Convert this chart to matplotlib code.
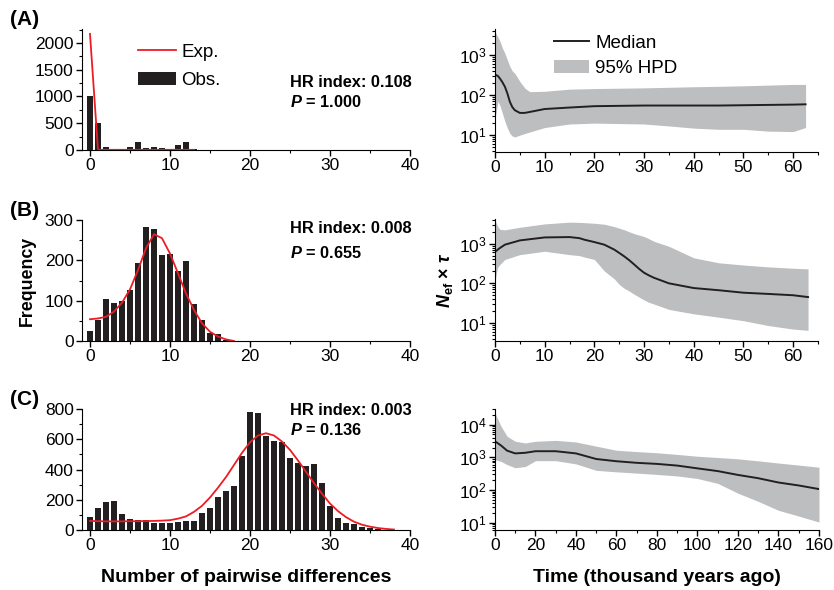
import matplotlib
matplotlib.use("Agg")
import matplotlib.pyplot as plt
import matplotlib.ticker as ticker
import numpy as np

plt.rcParams['font.family'] = ['Liberation Sans', 'DejaVu Sans']
plt.rcParams['mathtext.fontset'] = 'custom'
plt.rcParams['mathtext.rm'] = 'Liberation Sans'
plt.rcParams['mathtext.it'] = 'Liberation Sans:italic'
plt.rcParams['mathtext.bf'] = 'Liberation Sans:bold'
plt.rcParams['mathtext.bfit'] = 'Liberation Sans:bold:italic'

# ---- mismatch distributions (observed bars, expected line) ----
obs_a = [1000, 500, 50, 0, 0, 50, 150, 30, 50, 30, 8, 90, 150, 25]
exp_a_x = [0, 1, 13]
exp_a_y = [2170, 3, 3]

obs_b = [25, 51, 105, 95, 100, 126, 193, 284, 277, 213, 216, 174, 198, 93, 52, 20, 17, 3]
exp_b = [54, 56, 60, 73, 95, 128, 176, 230, 265, 255, 217, 168, 118, 77, 44, 23, 11, 4, 0]

obs_c = [88, 148, 185, 194, 104, 75, 66, 64, 46, 44, 44, 53, 62, 62, 112, 143, 218, 258,
         291, 487, 778, 773, 623, 590, 583, 477, 446, 424, 438, 312, 157, 77, 44, 40, 22,
         13, 6, 2]
exp_c = [60, 58, 57, 57, 57, 58, 58, 59, 60, 62, 65, 75, 90, 120, 160, 215, 280, 350, 430,
         510, 580, 625, 640, 625, 585, 530, 460, 385, 310, 240, 175, 125, 85, 55, 35, 22,
         13, 7, 3]

hr_text = [("HR index: 0.108", "1.000"), ("HR index: 0.008", "0.655"), ("HR index: 0.003", "0.136")]

# ---- Bayesian skyline (time, median, lower, upper) ----
t_a = [0, 0.6, 1, 1.5, 2, 2.5, 3, 3.5, 4, 5, 6, 7, 10, 15, 20, 30, 35, 40, 45, 50, 55, 60, 62.5]
med_a = [329, 300, 260, 210, 162, 110, 68, 50, 42, 36, 36, 38, 45, 49, 53, 55, 55, 55, 55, 56, 57, 58, 59]
low_a = [25, 70, 55, 35, 22, 15, 11, 9.5, 9, 10, 11, 12, 15.5, 19, 20, 19, 17, 15, 14, 14, 12.6, 12.3, 15.5]
up_a = [3900, 2800, 2200, 1500, 1100, 750, 520, 400, 350, 220, 150, 122, 125, 141, 146, 152, 157, 162, 166, 171, 178, 185, 185]

t_b = [0, 0.5, 1, 2, 5, 10, 15, 17, 18, 20, 22, 24, 25, 26, 27, 28, 29, 30, 31, 32, 35, 40, 45, 50, 55, 60, 63]
med_b = [620, 700, 780, 945, 1210, 1440, 1470, 1380, 1260, 1100, 945, 710, 585, 480, 385, 300, 232, 185, 158, 138, 100, 76, 67, 58, 54, 50, 45]
low_b = [110, 250, 300, 400, 530, 645, 530, 500, 460, 400, 205, 130, 94, 75, 64, 53, 45, 38, 33, 30, 22, 17, 14, 11.4, 8.6, 7, 6.5]
up_b = [4000, 2800, 2300, 2240, 2600, 3160, 3500, 3450, 3400, 3280, 3100, 2700, 2470, 2250, 2000, 1800, 1650, 1520, 1330, 1150, 860, 440, 330, 290, 260, 240, 232]

t_c = [0, 3, 6, 10, 15, 20, 30, 40, 50, 60, 70, 80, 90, 100, 110, 120, 130, 140, 150, 160]
med_c = [3100, 2300, 1600, 1320, 1380, 1540, 1540, 1320, 890, 760, 680, 630, 560, 460, 380, 290, 230, 170, 138, 107]
low_c = [850, 750, 600, 480, 525, 790, 790, 630, 400, 360, 330, 300, 270, 225, 160, 80, 45, 24, 16, 10.5]
up_c = [23000, 8900, 4400, 3100, 2760, 3100, 3300, 2950, 2200, 1650, 1500, 1380, 1230, 1080, 990, 900, 780, 670, 580, 500]

fig = plt.figure(figsize=(8.34, 5.9), dpi=100)

left_pos = [[0.0983, 0.7458, 0.3933, 0.205], [0.0983, 0.422, 0.3933, 0.205], [0.0983, 0.1017, 0.3933, 0.205]]
right_pos = [[0.5935, 0.7424, 0.3873, 0.2085], [0.5935, 0.422, 0.3873, 0.2068], [0.5935, 0.1017, 0.3885, 0.205]]

hist_ylim = [2260, 300, 800]
hist_major = [500, 100, 200]
hist_minor = [250, 50, 100]
panel_lbl = ["(A)", "(B)", "(C)"]
hr_y = [(0.56, 0.40), (0.93, 0.73), (0.99, 0.83)]
gray = '#bcbec0'


def style_axis(ax):
    ax.spines['top'].set_visible(False)
    ax.spines['right'].set_visible(False)
    ax.tick_params(direction='out', length=4, width=1, labelsize=12.5, pad=2)
    ax.tick_params(which='minor', direction='out', length=2.5, width=0.8)


obs_all = [obs_a, obs_b, obs_c]
for i in range(3):
    ax = fig.add_axes(left_pos[i])
    obs = obs_all[i]
    bars = ax.bar(np.arange(len(obs)), obs, width=0.72, color='#231f20', label='Obs.')
    if i == 0:
        line, = ax.plot(exp_a_x, exp_a_y, color='#ed1c24', lw=1.3, label='Exp.')
    elif i == 1:
        line, = ax.plot(np.arange(len(exp_b)), exp_b, color='#ed1c24', lw=1.3)
    else:
        line, = ax.plot(np.arange(len(exp_c)), exp_c, color='#ed1c24', lw=1.3)
    ax.set_xlim(-1, 40)
    ax.set_ylim(0, hist_ylim[i])
    ax.xaxis.set_major_locator(ticker.MultipleLocator(10))
    ax.xaxis.set_minor_locator(ticker.MultipleLocator(5))
    ax.yaxis.set_major_locator(ticker.MultipleLocator(hist_major[i]))
    ax.yaxis.set_minor_locator(ticker.MultipleLocator(hist_minor[i]))
    style_axis(ax)
    ax.text(0.635, hr_y[i][0], hr_text[i][0], transform=ax.transAxes,
            fontsize=11.8, fontweight='bold', va='center')
    ax.text(0.635, hr_y[i][1], r'$\mathbfit{P}$ = ' + hr_text[i][1],
            transform=ax.transAxes, fontsize=11.8, fontweight='bold', va='center')
    ax.text(-0.22, 1.075, panel_lbl[i], transform=ax.transAxes, fontsize=15,
            fontweight='bold', va='center')
    if i == 0:
        ax.legend(handles=[line, bars], labels=['Exp.', 'Obs.'], loc='upper left',
                  bbox_to_anchor=(0.12, 1.02), frameon=False, fontsize=13.5,
                  handlelength=2.0, handletextpad=0.3, labelspacing=0.6)
    if i == 1:
        ax.set_ylabel('Frequency', fontsize=12.8, fontweight='bold', labelpad=6)
    if i == 2:
        ax.set_xlabel('Number of pairwise differences', fontsize=14, fontweight='bold', labelpad=11)

sky = [(t_a, med_a, low_a, up_a), (t_b, med_b, low_b, up_b), (t_c, med_c, low_c, up_c)]
sky_xlim = [65, 65, 160]
sky_ylim = [(3.8, 4500), (3.5, 4200), (6, 30000)]
sky_major = [10, 10, 20]
sky_minor = [5, 5, 10]
for i in range(3):
    ax = fig.add_axes(right_pos[i])
    t, med, low, up = sky[i]
    band = ax.fill_between(t, low, up, color=gray, lw=0, label='95% HPD')
    ml, = ax.plot(t, med, color='#231f20', lw=1.4, label='Median')
    ax.set_yscale('log')
    ax.set_xlim(0, sky_xlim[i])
    ax.set_ylim(*sky_ylim[i])
    ax.xaxis.set_major_locator(ticker.MultipleLocator(sky_major[i]))
    ax.xaxis.set_minor_locator(ticker.MultipleLocator(sky_minor[i]))
    ax.yaxis.set_major_locator(ticker.LogLocator(base=10, numticks=10))
    ax.yaxis.set_minor_locator(ticker.LogLocator(base=10, subs=np.arange(2, 10), numticks=20))
    ax.yaxis.set_minor_formatter(ticker.NullFormatter())
    style_axis(ax)
    if i == 0:
        ax.legend(handles=[ml, band], labels=['Median', '95% HPD'], loc='upper left',
                  bbox_to_anchor=(0.13, 1.09), frameon=False, fontsize=13.5,
                  handlelength=1.9, handletextpad=0.3, labelspacing=0.45)
    if i == 1:
        ax.set_ylabel(r'$\mathbfit{N}_{\mathbf{ef}}$ $\mathbf{\times}$ $\mathbfit{\tau}$',
                      fontsize=13, labelpad=3)
    if i == 2:
        ax.set_xlabel('Time (thousand years ago)', fontsize=14, fontweight='bold', labelpad=11)

fig.savefig('out.png', dpi=100)
